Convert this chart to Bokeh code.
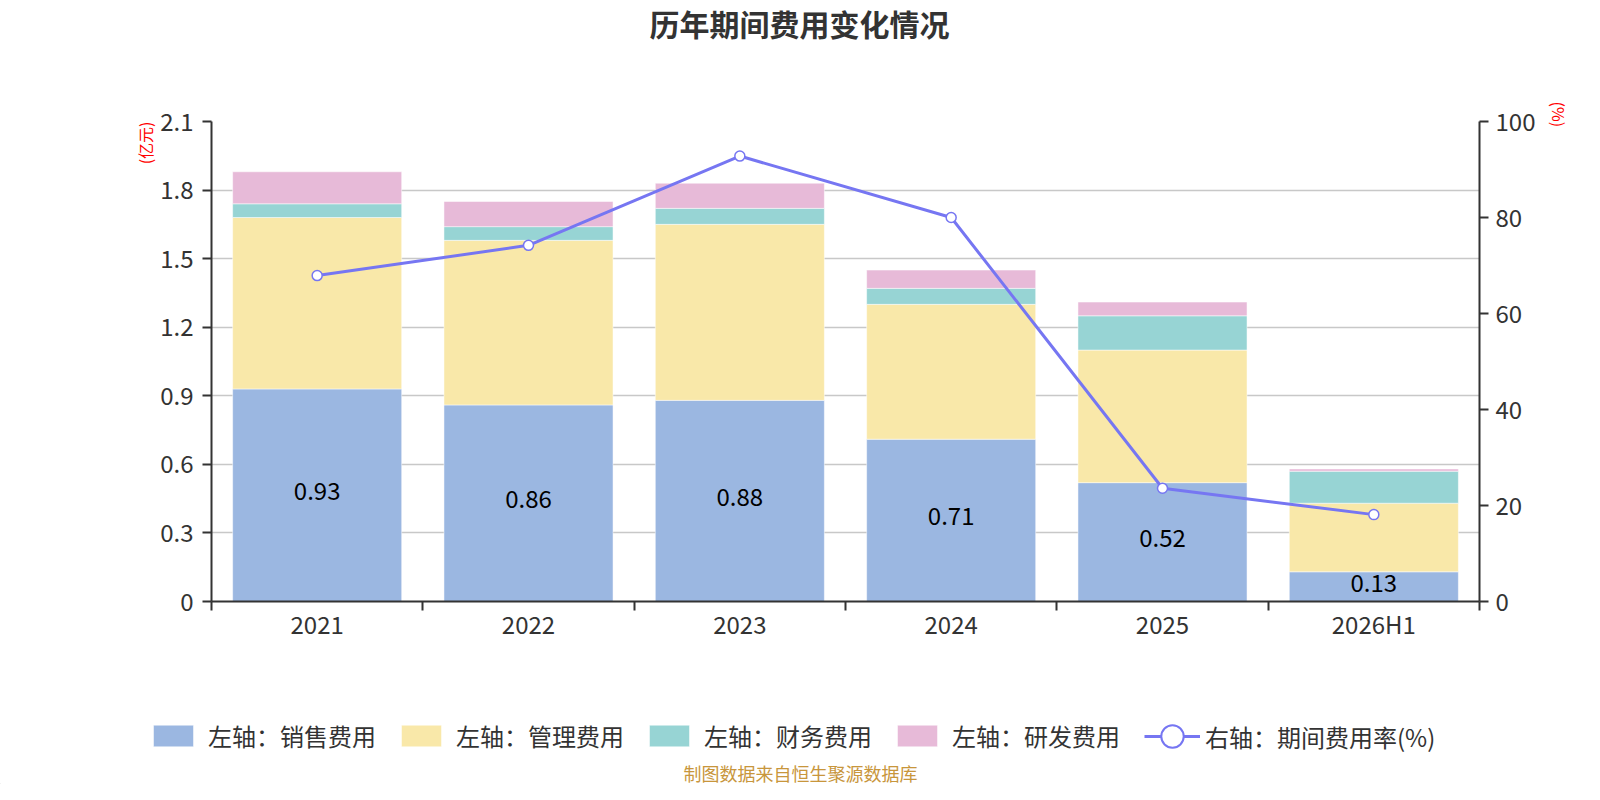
import math
from bokeh.plotting import figure
from bokeh.layouts import column
from bokeh.models import (ColumnDataSource, Range1d, LinearAxis, FixedTicker, CustomJSTickFormatter,
                          Legend, LegendItem, Title)
from bokeh.core.properties import value
from bokeh.embed import file_html
from bokeh.resources import INLINE

# ---- data ----
years = ["2021", "2022", "2023", "2024", "2025", "2026H1"]
sales = [0.93, 0.86, 0.88, 0.71, 0.52, 0.13]      # 销售费用 (亿元)
admin = [0.75, 0.72, 0.77, 0.59, 0.58, 0.30]      # 管理费用
finance = [0.06, 0.06, 0.07, 0.07, 0.15, 0.14]    # 财务费用
rd = [0.14, 0.11, 0.11, 0.08, 0.06, 0.01]         # 研发费用
rate = [67.9, 74.2, 92.8, 80.0, 23.6, 18.1]       # 期间费用率(%)
left_ticks = [0, 0.3, 0.6, 0.9, 1.2, 1.5, 1.8, 2.1]
right_ticks = [0, 20, 40, 60, 80, 100]
series_names = ["左轴：销售费用", "左轴：管理费用", "左轴：财务费用", "左轴：研发费用"]
line_name = "右轴：期间费用率(%)"
title_text = "历年期间费用变化情况"
footer_text = "制图数据来自恒生聚源数据库"

FONT = "Noto Sans CJK SC"
colors = ["#9bb7e1", "#f9e8a9", "#97d4d4", "#e7bad8"]
line_color = "#7676f2"

W, H = 1584, 784
HT = 46                 # title strip
HB = 123                # legend / footer strip
HM = H - HT - HB        # main chart


def no_align(fig):
    if "frame_align" in fig.properties():
        fig.frame_align = False


def strip(height):
    f = figure(width=W, height=height, output_backend="svg", toolbar_location=None, title=None,
               x_range=Range1d(0, W), y_range=Range1d(0, height), x_axis_type=None, y_axis_type=None,
               min_border=0, min_border_left=0, min_border_right=0, min_border_top=0,
               min_border_bottom=0)
    f.outline_line_color = None
    f.background_fill_color = "white"
    f.border_fill_color = "white"
    no_align(f)
    return f


# ---- title strip ----
t = strip(HT)
t.text(x=[799], y=[HT / 2 + 1], text=[title_text], text_align="center", text_baseline="middle",
       text_font=value(FONT), text_font_size="30px", text_font_style="bold", text_color="#333333")

# ---- main chart ----
xs = list(range(len(years)))
src = ColumnDataSource(dict(
    x=xs, sales=sales, admin=admin, finance=finance, rd=rd, rate=rate,
    mid=[s / 2 for s in sales], lab=["%.2f" % s for s in sales],
))

top_border = 121 - HT
p = figure(width=W, height=HM, output_backend="svg", toolbar_location=None, title=None,
           x_range=Range1d(-0.5, len(years) - 0.5), y_range=Range1d(0, 2.1),
           min_border_left=211, min_border_right=W - 1479, min_border_top=top_border,
           min_border_bottom=HM - (601 - HT))
no_align(p)
p.extra_y_ranges = {"right": Range1d(0, 100)}
p.outline_line_color = None
p.background_fill_color = "white"
p.border_fill_color = "white"

p.xgrid.grid_line_color = None
p.ygrid.ticker = FixedTicker(ticks=left_ticks)
p.ygrid.grid_line_color = "#c8c8c8"
p.ygrid.grid_line_width = 1.5

bar_style = dict(line_color="white", line_width=0.5)
bar_rs = p.vbar_stack(["sales", "admin", "finance", "rd"], x="x", width=0.8, source=src,
                      fill_color=colors, **bar_style)

p.text(x="x", y="mid", text="lab", source=src, text_align="center", text_baseline="middle",
       y_offset=-4, text_font=value(FONT), text_font_size="24px", text_color="#000000")

p.line(x="x", y="rate", source=src, y_range_name="right", line_color=line_color, line_width=3)
p.scatter(x="x", y="rate", source=src, y_range_name="right", size=10, marker="circle",
          fill_color="white", line_color=line_color, line_width=1.5)


def style_axis(ax):
    ax.axis_line_color = "#333333"
    ax.axis_line_width = 2
    ax.major_tick_line_color = "#333333"
    ax.major_tick_line_width = 2
    ax.major_tick_out = 9
    ax.major_tick_in = 0
    ax.minor_tick_line_color = None
    ax.major_label_text_font = FONT
    ax.major_label_text_font_size = "24px"
    ax.major_label_text_color = "#333333"


xa = p.xaxis[0]
style_axis(xa)
xa.ticker = FixedTicker(ticks=xs, minor_ticks=[i - 0.5 for i in range(len(years) + 1)])
xa.formatter = CustomJSTickFormatter(args=dict(labels=years), code="return labels[Math.round(tick)] || '';")
xa.major_tick_line_color = None
xa.major_tick_out = 0
xa.minor_tick_line_color = "#333333"
xa.minor_tick_line_width = 2
xa.minor_tick_out = 9
xa.minor_tick_in = 0
xa.major_label_standoff = -5

ya = p.yaxis[0]
style_axis(ya)
ya.ticker = FixedTicker(ticks=left_ticks)
ya.formatter = CustomJSTickFormatter(code="return tick == 0 ? '0' : tick.toFixed(1);")
ya.major_label_standoff = 9

ra = LinearAxis(y_range_name="right", ticker=FixedTicker(ticks=right_ticks))
style_axis(ra)
ra.major_label_standoff = 7
p.add_layout(ra, "right")

p.add_layout(Title(text="(亿元)", align="right", offset=0, vertical_align="middle", standoff=0,
                   text_font=FONT, text_font_size="16px", text_font_style="normal",
                   text_color="#ff0000"), "left")
p.add_layout(Title(text="(%)", align="left", offset=-20, vertical_align="middle", standoff=14,
                   text_font=FONT, text_font_size="16px", text_font_style="normal",
                   text_color="#ff0000"), "right")

# ---- legend + footer strip ----
q = strip(HB)
off = dict(x=[-1000], top=[1], bottom=[0])
leg_bars = [q.vbar(x="x", top="top", bottom="bottom", width=1, source=ColumnDataSource(off),
                   fill_color=c, **bar_style) for c in colors]
leg_line = q.line(x=[-1000, -990], y=[0, 0], line_color=line_color, line_width=3)
leg_dot = q.scatter(x=[-1000], y=[0], size=22, marker="circle", fill_color="white",
                    line_color=line_color, line_width=2)

leg_common = dict(orientation="horizontal", padding=0, margin=0, border_line_color=None,
                  background_fill_alpha=0, label_text_font=FONT, label_text_font_size="24px",
                  label_text_color="#333333")
legend = Legend(items=[LegendItem(label=n, renderers=[r]) for n, r in zip(series_names, leg_bars)],
                location=(148, 31), glyph_width=50, glyph_height=27, label_standoff=10, spacing=20,
                **leg_common)
q.add_layout(legend)
legend2 = Legend(items=[LegendItem(label=line_name, renderers=[leg_line, leg_dot])],
                 location=(1144, 18), glyph_width=56, glyph_height=60, label_standoff=5, spacing=0,
                 **leg_common)
q.add_layout(legend2)

q.text(x=[800], y=[12], text=[footer_text], text_align="center", text_baseline="middle",
       text_font=value(FONT), text_font_size="18px", text_color="#c8963c")

layout = column(t, p, q, spacing=0)
open("out.html", "w").write(file_html(layout, INLINE))
